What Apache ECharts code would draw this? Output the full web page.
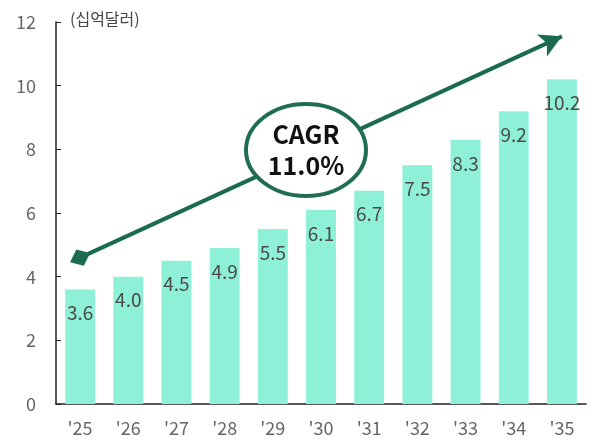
<!DOCTYPE html>
<html>
<head>
<meta charset="utf-8">
<script src="https://cdn.jsdelivr.net/npm/echarts@6/dist/echarts.min.js"></script>
<style>
  html, body { margin: 0; padding: 0; background: #fff; }
  #chart { width: 590px; height: 440px; }
</style>
</head>
<body>
<div id="chart"></div>
<script>
const years = ["'25", "'26", "'27", "'28", "'29", "'30", "'31", "'32", "'33", "'34", "'35"]
const marketSize = [3.6, 4.0, 4.5, 4.9, 5.5, 6.1, 6.7, 7.5, 8.3, 9.2, 10.2]
const trendStart = 4.6
const trendEnd = 11.55
const cagrText = 'CAGR\n11.0%'
const unitText = '(십억달러)'

const font = '"Noto Sans CJK KR", "Noto Sans", sans-serif'
const chart = echarts.init(document.getElementById('chart'))

const option = {
  animation: false,
  grid: { left: 56, right: 4, top: 22, bottom: 36 },
  xAxis: {
    type: 'category',
    data: years,
    axisLine: { lineStyle: { color: '#222', width: 1.5 } },
    axisTick: { inside: true, length: 5, lineStyle: { color: '#222' } },
    axisLabel: { color: '#666', fontSize: 18, margin: 15, fontFamily: font }
  },
  yAxis: {
    type: 'value',
    min: 0,
    max: 12,
    interval: 2,
    splitLine: { show: false },
    axisLine: { show: true, lineStyle: { color: '#222', width: 1.5 } },
    axisTick: { show: true, inside: true, length: 5, lineStyle: { color: '#222' } },
    axisLabel: { color: '#666', fontSize: 18, margin: 20, fontFamily: font }
  },
  graphic: [
    {
      type: 'text',
      left: 70,
      top: 11,
      style: { text: unitText, fill: '#444', fontSize: 16, fontFamily: font }
    },
    {
      type: 'ellipse',
      z: 100,
      shape: { cx: 306, cy: 150, rx: 60, ry: 46 },
      style: { fill: '#fff', stroke: '#1f6e52', lineWidth: 4 }
    },
    {
      type: 'text',
      z: 101,
      x: 306,
      y: 150,
      style: {
        text: cagrText,
        fill: '#111',
        fontSize: 25,
        fontWeight: 'bold',
        lineHeight: 31,
        align: 'center',
        verticalAlign: 'middle',
        fontFamily: font
      }
    }
  ],
  series: [
    {
      type: 'bar',
      data: marketSize,
      barWidth: '62%',
      itemStyle: { color: '#8ef0d6' },
      label: {
        show: true,
        position: 'insideTop',
        distance: 14,
        color: '#4a4a4a',
        fontSize: 19,
        fontFamily: font,
        formatter: (p) => p.value.toFixed(1)
      },
      markLine: {
        silent: true,
        symbol: ['diamond', 'arrow'],
        symbolSize: [18, 22],
        label: { show: false },
        lineStyle: { color: '#1a6b50', width: 4, type: 'solid' },
        data: [[
          { coord: [years[0], trendStart] },
          { coord: [years[years.length - 1], trendEnd] }
        ]]
      }
    }
  ]
}

chart.setOption(option)
</script>
</body>
</html>
